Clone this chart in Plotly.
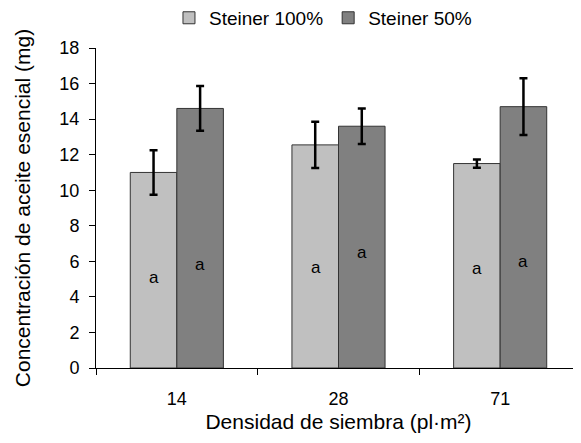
import plotly.graph_objects as go

categories = ["14", "28", "71"]
steiner100 = [11.0, 12.55, 11.5]
steiner100_err = [1.25, 1.3, 0.23]
steiner50 = [14.6, 13.6, 14.7]
steiner50_err = [1.26, 1.0, 1.6]
letters100 = ["a", "a", "a"]
letters50 = ["a", "a", "a"]
letters100_y = [5.1, 5.65, 5.6]
letters50_y = [5.8, 6.5, 6.0]
y_ticks = [0, 2, 4, 6, 8, 10, 12, 14, 16, 18]

FONT = "Liberation Sans, Arial, sans-serif"

fig = go.Figure()
fig.add_trace(go.Bar(
    name="Steiner 100%", x=categories, y=steiner100,
    marker=dict(color="#c0c0c0", line=dict(color="#333333", width=1)),
    error_y=dict(type="data", array=steiner100_err, color="#000000", thickness=2.5, width=4),
))
fig.add_trace(go.Bar(
    name="Steiner 50%", x=categories, y=steiner50,
    marker=dict(color="#808080", line=dict(color="#333333", width=1)),
    error_y=dict(type="data", array=steiner50_err, color="#000000", thickness=2.5, width=4),
))

for i, c in enumerate(categories):
    fig.add_annotation(x=i, y=letters100_y[i], text=letters100[i], showarrow=False,
                       xref="x", xshift=-23, font=dict(size=17, color="#000000", family=FONT))
    fig.add_annotation(x=i, y=letters50_y[i], text=letters50[i], showarrow=False,
                       xref="x", xshift=23, font=dict(size=17, color="#000000", family=FONT))

fig.update_layout(
    width=581, height=443,
    margin=dict(l=88, r=8, t=40, b=83, autoexpand=False),
    paper_bgcolor="white", plot_bgcolor="white",
    barmode="group", bargap=0.424, bargroupgap=0,
    font=dict(family=FONT, color="#000000", size=18),
    legend=dict(orientation="h", x=0.468, xanchor="center", y=1.094, yanchor="middle",
                font=dict(size=19, family=FONT), itemwidth=30, bgcolor="rgba(0,0,0,0)",
                tracegroupgap=0),
    xaxis=dict(
        type="category", automargin=False,
        showline=True, linecolor="#000000", linewidth=1,
        ticks="outside", tickson="boundaries", ticklen=6, tickcolor="#000000",
        tickfont=dict(size=18), showgrid=False, ticklabelstandoff=14,
        title=dict(text="Densidad de siembra (pl·m²)", font=dict(size=21), standoff=6),
    ),
    yaxis=dict(
        automargin=False,
        range=[0, 18], tickvals=y_ticks, showline=True, linecolor="#000000", linewidth=1,
        ticks="outside", ticklen=6, tickcolor="#000000", showgrid=False, zeroline=False,
        tickfont=dict(size=18), ticklabelstandoff=6,
        title=dict(text="Concentración de aceite esencial (mg)", font=dict(size=21), standoff=23),
    ),
)

fig.write_html("out.html")
